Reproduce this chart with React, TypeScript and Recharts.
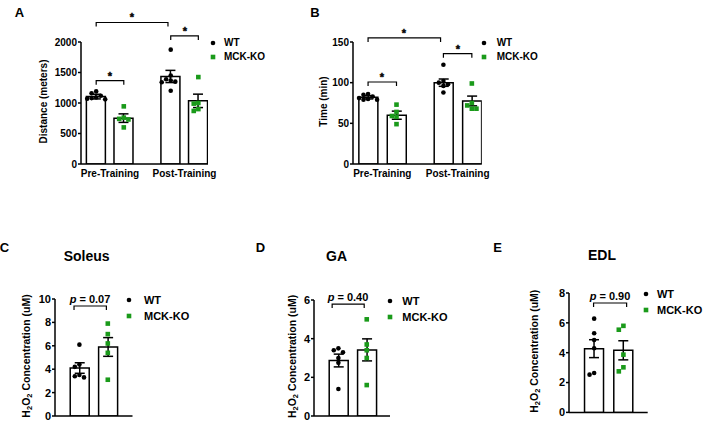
import React from 'react';
import {
  ComposedChart,
  Bar,
  ErrorBar,
  Scatter,
  XAxis,
  YAxis,
  ReferenceLine,
  Legend,
} from 'recharts';

const FONT = '"Liberation Sans", Arial, Helvetica, sans-serif';
const GREEN = '#1a9a1a';

const groupLabels = ['Pre-Training', 'Post-Training'];
const seriesNames = ['WT', 'MCK-KO'];

// A: distance (meters), individual mice per group
const distanceWt = [
  [1190, 1160, 1120, 1090, 1080, 1070, 1060],
  [1875, 1450, 1390, 1370, 1350, 1340, 1200],
];
const distanceKo = [
  [945, 760, 740, 730, 600],
  [1425, 1000, 990, 900, 870],
];
// bar order: Pre WT, Pre KO, Post WT, Post KO
const distanceMean = [1105, 752, 1435, 1035];
const distanceSem = [38, 70, 100, 110];

// B: time (min)
const timeWt = [
  [86, 85, 83, 81, 80, 79, 79],
  [122, 102, 100, 98, 96, 88],
];
const timeKo = [
  [73, 64, 59, 58, 49],
  [99, 75, 72, 68, 68],
];
const timeMean = [82, 60, 100, 77.5];
const timeSem = [2, 5, 4.5, 6];

// C/D/E: H2O2 concentration (uM)
const soleusWt = [6.1, 4.4, 4.2, 3.5, 3.4, 3.3];
const soleusKo = [7.9, 7.0, 6.2, 5.4, 3.1];
const soleusMean = [4.1, 5.9];
const soleusSem = [0.45, 0.8];

const gaWt = [3.5, 3.4, 3.3, 3.0, 2.75, 1.4];
const gaKo = [5.0, 3.7, 3.4, 3.0, 1.6];
const gaMean = [2.87, 3.42];
const gaSem = [0.33, 0.57];

const edlWt = [6.28, 5.3, 4.85, 4.3, 2.64, 2.53];
const edlKo = [5.8, 5.54, 3.87, 3.02, 2.75];
const edlMean = [4.27, 4.16];
const edlSem = [0.6, 0.64];

// spread points sideways when they would overlap (simple beeswarm)
const swarm = (vals: number[], yMax: number, plotH: number) => {
  const placed: { py: number; dx: number }[] = [];
  return vals.map((v) => {
    const py = (v / yMax) * plotH;
    const near = placed.filter((p) => Math.abs(p.py - py) < 4.4);
    const dx =
      [0, -4.6, 4.6, -9, 9].find((c) =>
        near.every((p) => Math.hypot(p.dx - c, p.py - py) >= 4.4)
      ) ?? 0;
    placed.push({ py, dx });
    return dx;
  });
};

const dotShape = (p: any) => (
  <circle cx={p.cx + p.payload.dx} cy={p.cy} r={2.3} fill="#000" />
);
const squareShape = (p: any) => (
  <rect
    x={p.cx + p.payload.dx - 2.3}
    y={p.cy - 2.3}
    width={4.6}
    height={4.6}
    fill={GREEN}
  />
);

interface Bracket {
  x1: number;
  x2: number;
  y: number;
  text: React.ReactNode;
  gap: number;
}

const bracketShape = (b: Bracket, size: number) => (p: any) => {
  const { x1, y1, x2 } = p;
  const d = `M${x1},${y1 + 4}L${x1},${y1}L${x2},${y1}L${x2},${y1 + 4}`;
  const star = b.text === '*';
  return (
    <g>
      <path d={d} fill="none" stroke="#000" strokeWidth={1.2} />
      <text
        x={Math.round((x1 + x2) / 2)}
        y={Math.round(y1 - b.gap)}
        textAnchor="middle"
        fontFamily={FONT}
        fontWeight="bold"
        fontSize={size}
        fill="#000"
        stroke={star ? '#000' : 'none'}
        strokeWidth={star ? 0.4 : 0}
      >
        {b.text}
      </text>
    </g>
  );
};

interface PanelProps {
  left: number;
  top: number;
  plotW: number;
  plotH: number;
  xDomain: [number, number];
  slots: number[];
  groupTicks?: number[];
  yMax: number;
  yTicks: number[];
  wt: number[][];
  ko: number[][];
  mean: number[];
  sem: number[];
  brackets: Bracket[];
  yTitle: React.ReactNode;
  yTitleDist: number;
  font: number;
  legend: { x: number; y: number; gap: number; textX: number };
}

const PAD_L = 60;
const PAD_T = 50;

const Panel: React.FC<PanelProps> = (props) => {
  const {
    left, top, plotW, plotH, xDomain, slots, groupTicks, yMax, yTicks,
    wt, ko, mean, sem, brackets, yTitle, yTitleDist, font, legend,
  } = props;

  const bars = mean.map((m, i) => ({ x: slots[i], mean: m, sem: sem[i] }));
  const toPoints = (groups: number[][], offset: number) =>
    groups.flatMap((vals, g) => {
      const dx = swarm(vals, yMax, plotH);
      return vals.map((v, i) => ({ x: slots[g * 2 + offset], v, dx: dx[i] }));
    });
  const wtPoints = toPoints(wt, 0);
  const koPoints = toPoints(ko, 1);

  const chartLeft = left - PAD_L;
  const chartTop = top - PAD_T;
  const tickStyle = { fill: '#000', fontSize: font, fontWeight: 'bold', fontFamily: FONT };

  const renderTitle = () => {
    const cx = PAD_L - yTitleDist;
    const cy = PAD_T + plotH / 2 - 1.5;
    return (
      <text
        x={cx}
        y={cy}
        transform={`rotate(-90 ${cx} ${cy})`}
        textAnchor="middle"
        dominantBaseline="central"
        fontFamily={FONT}
        fontWeight="bold"
        fontSize={font === 10 ? 10 : 10.5}
        fill="#000"
      >
        {yTitle}
      </text>
    );
  };

  const renderLegend = (lp: any) => {
    const items = (lp.payload || [])
      .filter((e: any) => e.type !== 'none')
      .sort((a: any, b: any) => seriesNames.indexOf(a.value) - seriesNames.indexOf(b.value));
    return (
      <div style={{ position: 'relative', width: 110, height: 40 }}>
        {items.map((e: any, i: number) => (
          <div
            key={e.value}
            style={{ position: 'absolute', left: 0, top: i * legend.gap, height: 12, width: 110 }}
          >
            <svg width={10} height={12} style={{ position: 'absolute', left: 0, top: 0 }}>
              {e.type === 'circle' ? (
                <circle cx={5} cy={6} r={2.3} fill={e.color} />
              ) : (
                <rect x={2.7} y={3.7} width={4.6} height={4.6} fill={e.color} />
              )}
            </svg>
            <span
              style={{
                position: 'absolute',
                left: legend.textX - legend.x + 5,
                top: 0,
                lineHeight: '12px',
                fontSize: font,
                fontWeight: 'bold',
                fontFamily: FONT,
                color: '#000',
                whiteSpace: 'nowrap',
              }}
            >
              {e.value}
            </span>
          </div>
        ))}
      </div>
    );
  };

  return (
    <div style={{ position: 'absolute', left: chartLeft, top: chartTop }}>
      <ComposedChart
        width={plotW + PAD_L + 100}
        height={plotH + PAD_T + 30}
        data={bars}
        margin={{ top: PAD_T, right: 100, bottom: 0, left: 0 }}
      >
        <XAxis
          dataKey="x"
          type="number"
          domain={xDomain}
          allowDataOverflow
          ticks={groupTicks || []}
          interval={0}
          tick={groupTicks ? tickStyle : false}
          tickFormatter={(_v: number, i: number) => groupLabels[i]}
          tickLine={false}
          tickSize={0}
          tickMargin={6}
          height={30}
          axisLine={{ stroke: '#000', strokeWidth: 1.5 }}
        />
        <YAxis
          type="number"
          domain={[0, yMax]}
          ticks={yTicks}
          interval={0}
          allowDataOverflow
          width={PAD_L}
          tick={tickStyle}
          tickSize={3}
          tickMargin={1}
          tickLine={{ stroke: '#000', strokeWidth: 1.5 }}
          axisLine={{ stroke: '#000', strokeWidth: 1.5 }}
          label={renderTitle}
        />
        <Bar
          dataKey="mean"
          barSize={19}
          fill="#fff"
          stroke="#000"
          strokeWidth={1.5}
          legendType="none"
          isAnimationActive={false}
        >
          <ErrorBar dataKey="sem" width={5} stroke="#000" strokeWidth={1.5} direction="y" />
        </Bar>
        <Scatter
          name={seriesNames[0]}
          data={wtPoints}
          dataKey="v"
          fill="#000"
          legendType="circle"
          shape={dotShape}
          isAnimationActive={false}
        />
        <Scatter
          name={seriesNames[1]}
          data={koPoints}
          dataKey="v"
          fill={GREEN}
          legendType="square"
          shape={squareShape}
          isAnimationActive={false}
        />
        {brackets.map((b, i) => (
          <ReferenceLine
            key={i}
            segment={[
              { x: b.x1, y: b.y },
              { x: b.x2, y: b.y },
            ]}
            ifOverflow="visible"
            stroke="#000"
            shape={bracketShape(b, 11)}
          />
        ))}
        <Legend
          layout="horizontal"
          align="center"
          verticalAlign="middle"
          content={renderLegend}
          wrapperStyle={{
            left: legend.x - chartLeft - 5,
            top: legend.y - chartTop - 6,
            width: 110,
            height: 40,
          }}
        />
      </ComposedChart>
    </div>
  );
};

const h2o2Title = (
  <>
    <tspan>H</tspan>
    <tspan fontSize={7.5} dy={3}>2</tspan>
    <tspan dy={-3}>O</tspan>
    <tspan fontSize={7.5} dy={3}>2</tspan>
    <tspan dy={-3}>{' Concentration (uM)'}</tspan>
  </>
);

const pText = (v: string) => (
  <>
    <tspan fontStyle="italic">p</tspan>
    <tspan>{` = ${v}`}</tspan>
  </>
);

const panelText = [
  { t: 'A', x: 19.5, y: 12.5, s: 13 },
  { t: 'B', x: 315, y: 12, s: 13 },
  { t: 'C', x: 4.5, y: 247, s: 13 },
  { t: 'D', x: 260.5, y: 247, s: 13 },
  { t: 'E', x: 497.5, y: 247, s: 13 },
  { t: 'Soleus', x: 86.7, y: 255.7, s: 14 },
  { t: 'GA', x: 336.5, y: 256, s: 14 },
  { t: 'EDL', x: 602, y: 255, s: 14 },
];

export default function App() {
  return (
    <div
      style={{
        position: 'fixed',
        left: 0,
        top: 0,
        width: 708,
        height: 425,
        overflow: 'hidden',
        background: '#fff',
      }}
    >
      <Panel
        left={81}
        top={42.3}
        plotW={127}
        plotH={122}
        xDomain={[0.45, 5.05]}
        slots={[1, 2, 3.7, 4.7]}
        groupTicks={[1.5, 4.2]}
        yMax={2000}
        yTicks={[0, 500, 1000, 1500, 2000]}
        wt={distanceWt}
        ko={distanceKo}
        mean={distanceMean}
        sem={distanceSem}
        brackets={[
          { x1: 1, x2: 3.6, y: 2320, text: '*', gap: 1 },
          { x1: 1, x2: 2, y: 1366, text: '*', gap: 1 },
          { x1: 3.7, x2: 4.7, y: 2100, text: '*', gap: 1 },
        ]}
        yTitle="Distance (meters)"
        yTitleDist={38}
        font={10}
        legend={{ x: 213.3, y: 42.7, gap: 14.6, textX: 224 }}
      />
      <Panel
        left={352.7}
        top={42.3}
        plotW={128.8}
        plotH={122}
        xDomain={[0.47, 5.0]}
        slots={[1, 2, 3.65, 4.65]}
        groupTicks={[1.5, 4.15]}
        yMax={150}
        yTicks={[0, 50, 100, 150]}
        wt={timeWt}
        ko={timeKo}
        mean={timeMean}
        sem={timeSem}
        brackets={[
          { x1: 1, x2: 3.55, y: 155, text: '*', gap: 1 },
          { x1: 1, x2: 2, y: 100.8, text: '*', gap: 1 },
          { x1: 3.65, x2: 4.65, y: 135.6, text: '*', gap: 1 },
        ]}
        yTitle="Time (min)"
        yTitleDist={29.4}
        font={10}
        legend={{ x: 484, y: 42.7, gap: 14.6, textX: 496.7 }}
      />
      <Panel
        left={54.5}
        top={299}
        plotW={77.5}
        plotH={117}
        xDomain={[0.14, 2.87]}
        slots={[1, 2]}
        yMax={10}
        yTicks={[0, 2, 4, 6, 8, 10]}
        wt={[soleusWt]}
        ko={[soleusKo]}
        mean={soleusMean}
        sem={soleusSem}
        brackets={[{ x1: 0.81, x2: 1.95, y: 9.4, text: pText('0.07'), gap: 3 }]}
        yTitle={h2o2Title}
        yTitleDist={29.5}
        font={11}
        legend={{ x: 129.3, y: 300.3, gap: 15.7, textX: 144 }}
      />
      <Panel
        left={314}
        top={300}
        plotW={76}
        plotH={116}
        xDomain={[0.14, 2.82]}
        slots={[1, 2]}
        yMax={6}
        yTicks={[0, 2, 4, 6]}
        wt={[gaWt]}
        ko={[gaKo]}
        mean={gaMean}
        sem={gaSem}
        brackets={[{ x1: 0.78, x2: 1.91, y: 5.79, text: pText('0.40'), gap: 3 }]}
        yTitle={h2o2Title}
        yTitleDist={22.3}
        font={11}
        legend={{ x: 390, y: 301, gap: 15.7, textX: 402.3 }}
      />
      <Panel
        left={569.3}
        top={293.3}
        plotW={78.7}
        plotH={119.4}
        xDomain={[0.14, 2.83]}
        slots={[1, 2]}
        yMax={8}
        yTicks={[0, 2, 4, 6, 8]}
        wt={[edlWt]}
        ko={[edlKo]}
        mean={edlMean}
        sem={edlSem}
        brackets={[{ x1: 0.98, x2: 2.11, y: 7.33, text: pText('0.90'), gap: 3 }]}
        yTitle={h2o2Title}
        yTitleDist={35}
        font={11}
        legend={{ x: 646, y: 294, gap: 16, textX: 657 }}
      />
      <svg
        width={708}
        height={425}
        style={{ position: 'absolute', left: 0, top: 0, pointerEvents: 'none' }}
      >
        {panelText.map((p) => (
          <text
            key={p.t}
            x={p.x}
            y={p.y}
            textAnchor="middle"
            dominantBaseline="central"
            fontFamily={FONT}
            fontWeight="bold"
            fontSize={p.s}
            fill="#000"
          >
            {p.t}
          </text>
        ))}
      </svg>
    </div>
  );
}
